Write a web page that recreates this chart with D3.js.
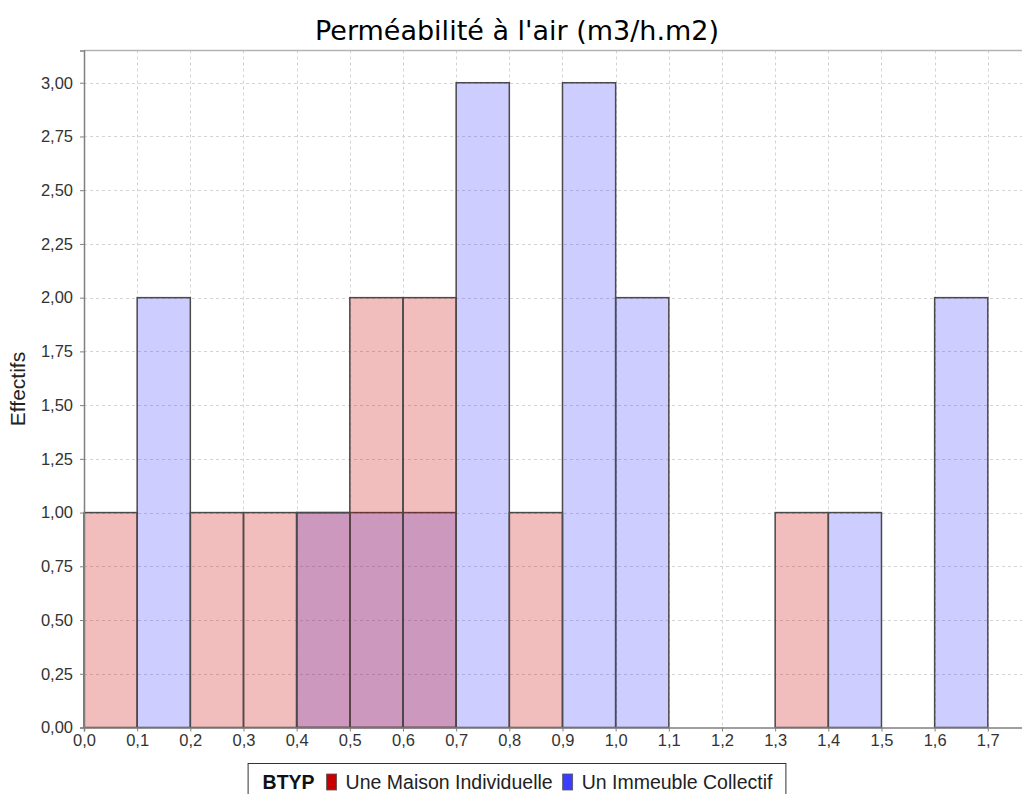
<!DOCTYPE html>
<html>
<head>
<meta charset="utf-8">
<script src="https://cdn.jsdelivr.net/npm/d3@7"></script>
<style>
  html, body { margin: 0; padding: 0; background: #fff; overflow: hidden; }
  svg { display: block; }
</style>
</head>
<body>
<svg id="chart" width="1022" height="794"></svg>
<script>
// ---- data ----
const title = "Perméabilité à l'air (m3/h.m2)";
const yLabel = "Effectifs";
const legendTitle = "BTYP";
const seriesNames = ["Une Maison Individuelle", "Un Immeuble Collectif"];
const binStarts = [0.0, 0.1, 0.2, 0.3, 0.4, 0.5, 0.6, 0.7, 0.8, 0.9, 1.0, 1.1, 1.2, 1.3, 1.4, 1.5, 1.6];
const binWidth = 0.1;
const maisonCounts   = [1, 0, 1, 1, 1, 2, 2, 0, 1, 0, 0, 0, 0, 1, 0, 0, 0];
const immeubleCounts = [0, 2, 0, 0, 1, 1, 1, 3, 0, 3, 2, 0, 0, 0, 1, 0, 2];
const xTicks = [0.0, 0.1, 0.2, 0.3, 0.4, 0.5, 0.6, 0.7, 0.8, 0.9, 1.0, 1.1, 1.2, 1.3, 1.4, 1.5, 1.6, 1.7];
const yTicks = [0, 0.25, 0.5, 0.75, 1, 1.25, 1.5, 1.75, 2, 2.25, 2.5, 2.75, 3];

// ---- layout ----
const svg = d3.select("#chart");
const plot = { left: 84, top: 50.5, right: 1033, bottom: 727.5 };
const x = d3.scaleLinear().domain([0, 1.785]).range([plot.left, plot.right]);
const y = d3.scaleLinear().domain([0, 3.15]).range([plot.bottom, plot.top]);
const fmtX = d => d3.format(".1f")(d).replace(".", ",");
const fmtY = d => d3.format(".2f")(d).replace(".", ",");
const colors = ["#c80000", "#3c3cff"];
const fillOpacity = 0.26;
const tickFont = "'Liberation Sans', Arial, sans-serif";

// title
svg.append("text")
  .attr("x", 517).attr("y", 40)
  .attr("text-anchor", "middle")
  .attr("font-family", "'DejaVu Sans', Verdana, sans-serif")
  .attr("font-size", 27)
  .attr("fill", "#000")
  .text(title);

// plot background
svg.append("rect")
  .attr("x", plot.left).attr("y", plot.top)
  .attr("width", plot.right - plot.left).attr("height", plot.bottom - plot.top)
  .attr("fill", "#fff");

// gridlines
const grid = svg.append("g");
grid.selectAll("line.v").data(xTicks.slice(1)).join("line")
  .attr("x1", d => Math.round(x(d)) + 0.5).attr("x2", d => Math.round(x(d)) + 0.5)
  .attr("y1", plot.top).attr("y2", plot.bottom)
  .attr("stroke", "#d4d4d4").attr("stroke-width", 1).attr("stroke-dasharray", "3,3");
grid.selectAll("line.h").data(yTicks.slice(1)).join("line")
  .attr("x1", plot.left).attr("x2", plot.right)
  .attr("y1", d => Math.round(y(d)) + 0.5).attr("y2", d => Math.round(y(d)) + 0.5)
  .attr("stroke", "#d4d4d4").attr("stroke-width", 1).attr("stroke-dasharray", "3,3");

// top border
svg.append("line")
  .attr("x1", plot.left).attr("x2", plot.right)
  .attr("y1", plot.top).attr("y2", plot.top)
  .attr("stroke", "#b4b4b4").attr("stroke-width", 1.5);

// bars: blue series first, red on top
function drawSeries(counts, color) {
  const data = binStarts.map((b, i) => ({ b, v: counts[i] })).filter(d => d.v > 0);
  svg.append("g").selectAll("rect").data(data).join("rect")
    .attr("x", d => x(d.b))
    .attr("width", d => x(d.b + binWidth) - x(d.b))
    .attr("y", d => y(d.v))
    .attr("height", d => y(0) - y(d.v))
    .attr("fill", color).attr("fill-opacity", fillOpacity)
    .attr("stroke", "#4a4a4a").attr("stroke-width", 1.5);
}
drawSeries(immeubleCounts, colors[1]);
drawSeries(maisonCounts, colors[0]);

// axes
const xAxis = d3.axisBottom(x).tickValues(xTicks).tickFormat(fmtX).tickSize(4).tickPadding(3);
const gx = svg.append("g").attr("transform", `translate(0,${plot.bottom})`).call(xAxis);
gx.select(".domain").attr("stroke", "#808080").attr("stroke-width", 1.5);
gx.selectAll(".tick line").attr("stroke", "#808080");
gx.selectAll("text").attr("font-family", tickFont).attr("font-size", 16.5).attr("fill", "#333");

const yAxis = d3.axisLeft(y).tickValues(yTicks).tickFormat(fmtY).tickSize(4).tickPadding(7);
const gy = svg.append("g").attr("transform", `translate(${plot.left},0)`).call(yAxis);
gy.select(".domain").attr("stroke", "#808080").attr("stroke-width", 1.5);
gy.selectAll(".tick line").attr("stroke", "#808080");
gy.selectAll("text").attr("font-family", tickFont).attr("font-size", 16.5).attr("fill", "#333");

// y label
svg.append("text")
  .attr("transform", `translate(25,${(plot.top + plot.bottom) / 2}) rotate(-90)`)
  .attr("text-anchor", "middle")
  .attr("font-family", tickFont).attr("font-size", 21).attr("fill", "#222")
  .text(yLabel);

// legend
const lg = svg.append("g");
const lf = "'Liberation Sans', Arial, sans-serif";
const baseY = 789;
let cx = 0;
const items = [];
const t0 = lg.append("text").attr("y", baseY).attr("font-family", lf).attr("font-size", 19.5)
  .attr("font-weight", "bold").attr("fill", "#111").text(legendTitle);
items.push({ node: t0, x: cx }); cx += t0.node().getComputedTextLength() + 12;
seriesNames.forEach((name, i) => {
  const sw = lg.append("rect").attr("y", baseY - 15).attr("width", 10).attr("height", 16)
    .attr("fill", colors[i]).attr("stroke", "#555").attr("stroke-width", 0.8);
  items.push({ node: sw, x: cx, rect: true }); cx += 10 + 9;
  const t = lg.append("text").attr("y", baseY).attr("font-family", lf).attr("font-size", 19.5)
    .attr("fill", "#222").text(name);
  items.push({ node: t, x: cx }); cx += t.node().getComputedTextLength() + 10;
});
const contentW = cx - 10;
const startX = 517.5 - contentW / 2;
items.forEach(it => it.node.attr("x", startX + it.x));
lg.insert("rect", ":first-child")
  .attr("x", startX - 14.5).attr("y", 763.5)
  .attr("width", contentW + 28).attr("height", 40)
  .attr("fill", "#fff").attr("stroke", "#333").attr("stroke-width", 1);
</script>
</body>
</html>
